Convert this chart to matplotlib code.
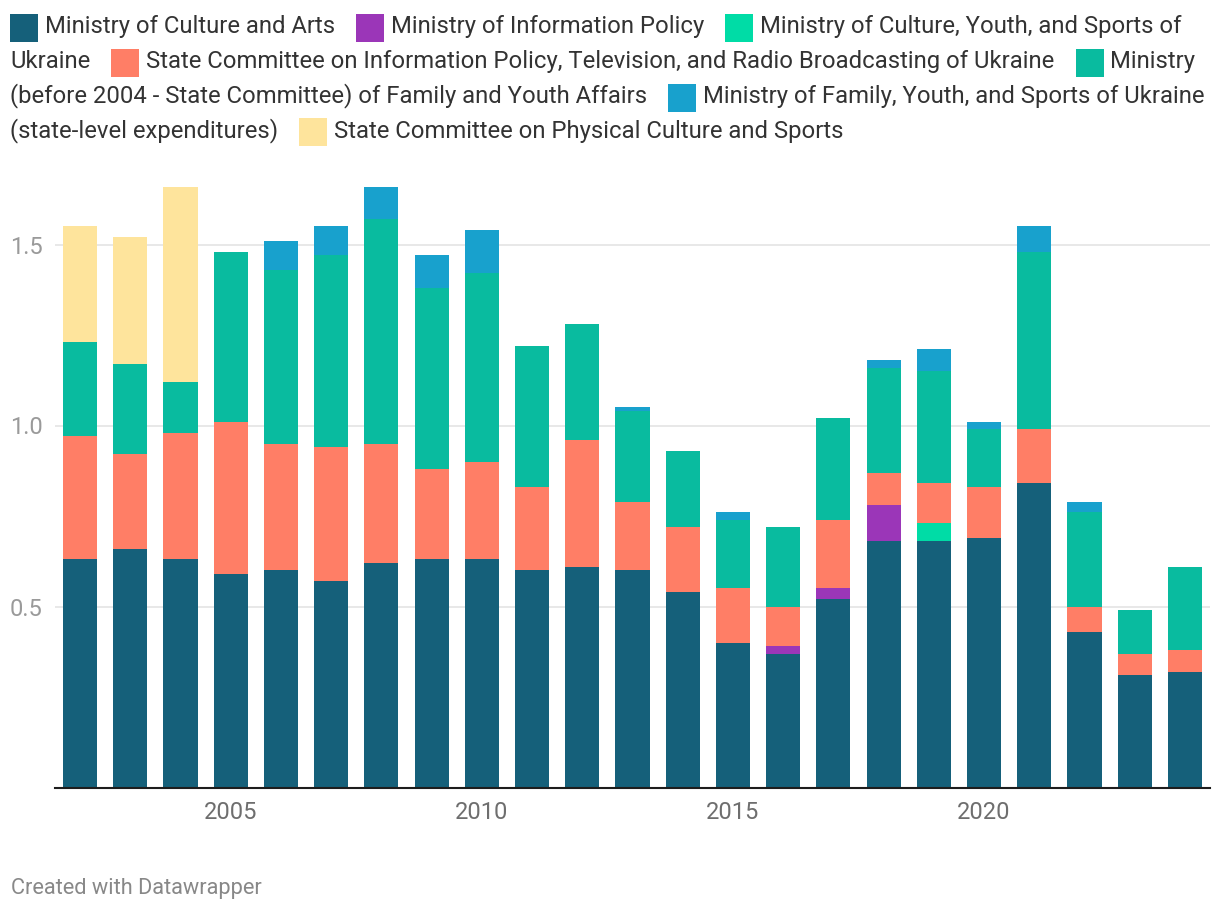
import numpy as np
import matplotlib
matplotlib.use("Agg")
import matplotlib.pyplot as plt
from matplotlib.patches import Rectangle

plt.rcParams['font.family'] = ['Roboto', 'DejaVu Sans']

# data (bn, stacked per ministry)
years = np.arange(2002, 2025)
culture_arts = [0.63, 0.66, 0.63, 0.59, 0.60, 0.57, 0.62, 0.63, 0.63, 0.60, 0.61, 0.60,
                0.54, 0.40, 0.37, 0.52, 0.68, 0.68, 0.69, 0.84, 0.43, 0.31, 0.32]
info_policy = [0, 0, 0, 0, 0, 0, 0, 0, 0, 0, 0, 0,
               0, 0, 0.02, 0.03, 0.10, 0, 0, 0, 0, 0, 0]
culture_youth_sports = [0, 0, 0, 0, 0, 0, 0, 0, 0, 0, 0, 0,
                        0, 0, 0, 0, 0, 0.05, 0, 0, 0, 0, 0]
committee_info_tv = [0.34, 0.26, 0.35, 0.42, 0.35, 0.37, 0.33, 0.25, 0.27, 0.23, 0.35, 0.19,
                     0.18, 0.15, 0.11, 0.19, 0.09, 0.11, 0.14, 0.15, 0.07, 0.06, 0.06]
family_youth = [0.26, 0.25, 0.14, 0.47, 0.48, 0.53, 0.62, 0.50, 0.52, 0.39, 0.32, 0.25,
                0.21, 0.19, 0.22, 0.28, 0.29, 0.31, 0.16, 0.49, 0.26, 0.12, 0.23]
family_youth_sports = [0, 0, 0, 0, 0.08, 0.08, 0.09, 0.09, 0.12, 0, 0, 0.01,
                       0, 0.02, 0, 0, 0.02, 0.06, 0.02, 0.07, 0.03, 0, 0]
physical_culture = [0.32, 0.35, 0.54, 0, 0, 0, 0, 0, 0, 0, 0, 0,
                    0, 0, 0, 0, 0, 0, 0, 0, 0, 0, 0]

labels = ["Ministry of Culture and Arts",
          "Ministry of Information Policy",
          "Ministry of Culture, Youth, and Sports of Ukraine",
          "State Committee on Information Policy, Television, and Radio Broadcasting of Ukraine",
          "Ministry (before 2004 - State Committee) of Family and Youth Affairs",
          "Ministry of Family, Youth, and Sports of Ukraine (state-level expenditures)",
          "State Committee on Physical Culture and Sports"]
series = [culture_arts, info_policy, culture_youth_sports, committee_info_tv,
          family_youth, family_youth_sports, physical_culture]
colors = ["#15607a", "#9b36b8", "#00dca6", "#ff7e66", "#09bb9f", "#18a1cd", "#fee49c"]

W, H = 1220, 910
fig = plt.figure(figsize=(W / 100, H / 100), dpi=100)
ax = fig.add_axes([55 / W, 1 - 787.5 / H, 1155 / W, (787.5 - 170) / H])

bottom = np.zeros(len(years))
for vals, c in zip(series, colors):
    vals = np.array(vals, dtype=float)
    ax.bar(years, vals, bottom=bottom, width=0.68, color=c, linewidth=0, zorder=2)
    bottom += vals

ax.set_xlim(2001.5, 2024.5)
ax.set_ylim(0, 617.5 / 362)
ax.set_yticks([0.5, 1.0, 1.5])
ax.set_yticklabels(["0.5", "1.0", "1.5"])
ax.set_xticks([2005, 2010, 2015, 2020])
ax.set_xticklabels(["2005", "2010", "2015", "2020"])
ax.tick_params(axis='y', length=0, pad=9, labelsize=17, labelcolor="#9a9a9a")
ax.tick_params(axis='x', length=0, pad=10, labelsize=17, labelcolor="#6e6e6e")
ax.grid(axis='y', color="#e6e6e6", linewidth=1.3, zorder=0)
ax.set_axisbelow(True)
for s in ['left', 'right', 'top']:
    ax.spines[s].set_visible(False)
ax.spines['bottom'].set_color("#1d1d1d")
ax.spines['bottom'].set_linewidth(1.5)
ax.spines['bottom'].set_zorder(3)

# flowing legend on top, like datawrapper
renderer = fig.canvas.get_renderer()
fs_leg = 17.2


def tw(s):
    t = fig.text(0, 0, s, fontsize=fs_leg)
    w = t.get_window_extent(renderer).width
    t.remove()
    return w


def put_text(s, x, line):
    fig.text(x / W, 1 - (33.5 + 34.7 * line) / H, s, fontsize=fs_leg,
             color="#333333", va='baseline', ha='left')


x, line = 10, 0
right = 1212
for lab, c in zip(labels, colors):
    words = lab.split(' ')
    if x > 10 and x + 35 + tw(words[0]) > right:
        x, line = 10, line + 1
    base = 33.5 + 34.7 * line
    fig.add_artist(Rectangle((x / W, 1 - (base + 8.7) / H), 28 / W, 28 / H,
                             transform=fig.transFigure, color=c, linewidth=0))
    x += 35
    chunk = words[0]
    for wd in words[1:]:
        cand = chunk + ' ' + wd
        if x + tw(cand) > right:
            put_text(chunk, x, line)
            x, line = 10, line + 1
            chunk = wd
        else:
            chunk = cand
    put_text(chunk, x, line)
    x += tw(chunk) + 21

fig.text(11 / W, 1 - 894 / H, "Created with Datawrapper", fontsize=15.7,
         color="#888888", va='baseline', ha='left')

fig.savefig("out.png", dpi=100)
